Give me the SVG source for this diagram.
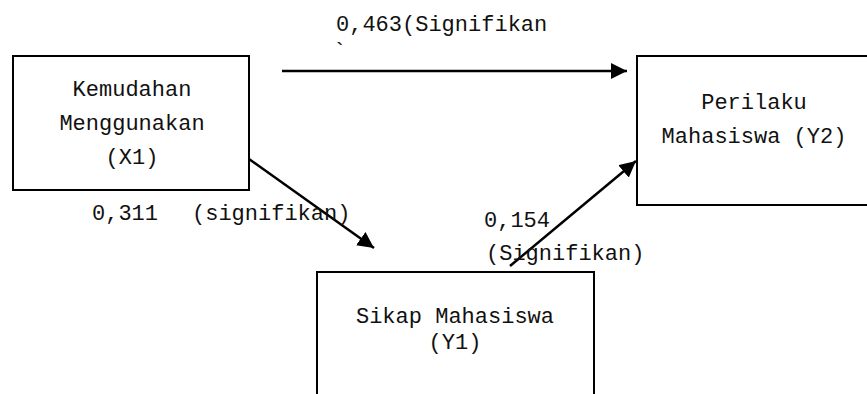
<svg xmlns="http://www.w3.org/2000/svg" width="867" height="394" viewBox="0 0 867 394">
<defs>
<style>
.box{fill:#fff;stroke:#000;stroke-width:2}
.t{font-family:"Liberation Mono","DejaVu Sans Mono",monospace;font-size:22px;fill:#111}
.c{text-anchor:middle}
.ln{stroke:#000;stroke-width:2.5;fill:none}
</style>
<marker id="ah" viewBox="0 0 10 10" refX="10" refY="5" markerWidth="6.5" markerHeight="6.5" markerUnits="strokeWidth" orient="auto">
<path d="M0,0 L10,5 L0,10 z" fill="#000"/>
</marker>
</defs>
<rect width="867" height="394" fill="#fff"/>
<g id="X1">
<rect class="box" x="13" y="56" width="236" height="134"/>
<text class="t c" x="132" y="96">Kemudahan</text>
<text class="t c" x="132" y="130">Menggunakan</text>
<text class="t c" x="132" y="164">(X1)</text>
</g>
<g id="Y2">
<rect class="box" x="637" y="56" width="260" height="149"/>
<text class="t c" x="754" y="109">Perilaku</text>
<text class="t c" x="754" y="143">Mahasiswa (Y2)</text>
</g>
<g id="Y1">
<rect class="box" x="317" y="272" width="277" height="140"/>
<text class="t c" x="455" y="323">Sikap Mahasiswa</text>
<text class="t c" x="455" y="349">(Y1)</text>
</g>
<g id="connectors">
<line class="ln" x1="282" y1="71" x2="627" y2="71" marker-end="url(#ah)"/>
<line class="ln" x1="249" y1="159" x2="374" y2="248" marker-end="url(#ah)"/>
<line class="ln" x1="510" y1="266" x2="636" y2="161" marker-end="url(#ah)"/>
</g>
<g id="labels">
<text class="t" x="336" y="31">0,463(Signifikan</text>
<text class="t" x="333" y="58">`</text>
<text class="t" x="92" y="220">0,311</text>
<text class="t" x="192" y="220">(signifikan)</text>
<text class="t" x="484" y="227">0,154</text>
<text class="t" x="486" y="260">(Signifikan)</text>
</g>
</svg>
